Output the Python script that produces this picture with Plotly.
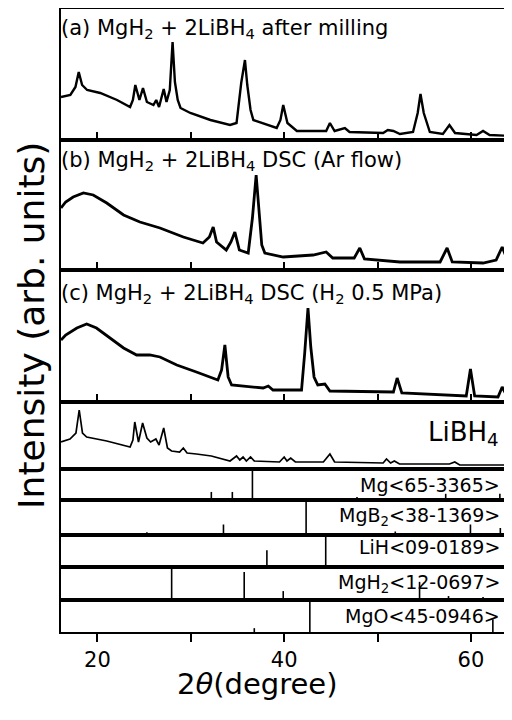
import plotly.graph_objects as go

# ---------------- data ----------------
# (a) MgH2 + 2LiBH4 after milling
a_tt = [16.1, 17.1, 17.65, 18.0, 18.36, 18.9, 20.3, 22.1, 23.5, 23.8, 24.06, 24.5, 24.88, 25.3, 26.0, 26.3,
        26.6, 27.1, 27.4, 27.75, 28.05, 28.3, 28.6, 28.9, 29.95, 32.1, 34.2, 34.9, 35.4, 35.8, 36.05, 36.4,
        36.7, 39.2, 39.6, 39.9, 40.35, 41.36, 44.5, 44.9, 45.4, 46.5, 47.0, 50.6, 51.1, 51.7, 52.4, 53.8,
        54.3, 54.6, 54.95, 55.6, 57.0, 57.7, 58.3, 60.6, 61.3, 62.0, 64.4]
a_int = [43, 45, 53, 68, 55, 50, 47, 40, 33, 40, 55, 40, 52, 38, 35, 40,
         33, 51, 38, 50, 98, 58, 40, 32, 27, 20, 15, 17, 57, 80, 55, 30,
         20, 12, 20, 35, 17, 9, 9, 17, 9, 12, 8, 7, 10, 9, 6, 8,
         27, 46, 27, 8, 6, 15, 7, 5, 9, 5, 4]

# (b) MgH2 + 2LiBH4 DSC (Ar flow)
b_tt = [16.1, 16.6, 17.4, 18.5, 19.55, 21.0, 22.8, 24.55, 26.7, 29.2, 31.3, 31.99, 32.4, 32.76, 33.8, 34.3,
        34.72, 35.2, 36.15, 36.6, 37.0, 37.3, 37.6, 37.93, 39.9, 43.1, 44.5, 45.2, 47.5, 48.1, 48.6, 52.4,
        56.7, 57.45, 58.0, 61.3, 62.7, 63.35, 64.0, 64.4]
b_int = [62, 68, 73, 77, 75, 67, 55, 48, 42, 33, 27, 33, 43, 28, 20, 28,
         38, 20, 17, 52, 95, 55, 25, 17, 13, 15, 18, 12, 12, 22, 11, 8,
         8, 22, 8, 7, 10, 23, 8, 7]

# (c) MgH2 + 2LiBH4 DSC (H2 0.5 MPa)
c_tt = [16.1, 16.6, 17.8, 18.85, 19.9, 21.3, 22.8, 24.2, 25.6, 26.7, 28.5, 30.6, 32.9, 33.3, 33.65, 34.0,
        34.37, 37.75, 38.3, 38.8, 41.86, 42.2, 42.55, 42.85, 43.2, 43.6, 44.36, 44.9, 51.7, 52.1, 52.6, 59.5,
        59.95, 60.4, 62.9, 63.35, 63.9, 64.4]
c_int = [62, 67, 74, 78, 74, 64, 54, 47, 47, 45, 37, 30, 22, 32, 57, 25,
         17, 14, 16, 12, 12, 49, 94, 55, 25, 17, 18, 11, 10, 24, 9, 6,
         33, 6, 5, 15, 5, 5]

# LiBH4 reference pattern
l_tt = [16.1, 17.06, 17.7, 18.05, 18.4, 18.85, 21.0, 23.5, 23.8, 24.0, 24.4, 24.84, 25.3, 25.7, 26.26, 26.6,
        27.1, 27.5, 27.94, 28.8, 29.2, 29.6, 30.6, 32.2, 34.2, 34.9, 35.25, 35.6, 35.95, 36.4, 36.8, 39.5,
        40.0, 40.3, 40.7, 41.2, 44.2, 44.9, 45.4, 50.6, 50.96, 51.4, 51.8, 52.35, 57.7, 58.27, 58.8, 64.4]
l_int = [27, 30, 36, 59, 36, 32, 28, 22, 29, 47, 27, 46, 31, 27, 30, 24,
         41, 21, 18, 17, 21, 16, 15, 13, 8, 13, 9, 12, 8, 12, 8, 7,
         12, 8, 11, 7, 7, 15, 7, 6, 10, 6, 8, 5, 5, 7, 4, 4]

# JCPDS stick patterns (2theta, relative intensity %)
mg_pos = [32.2, 34.45, 36.6, 47.8, 57.3, 63.1]
mg_rel = [26, 26, 100, 10, 20, 20]
mgb2_pos = [25.3, 33.5, 42.35, 51.9, 59.95, 63.15]
mgb2_rel = [8, 30, 100, 10, 30, 20]
lih_pos = [38.15, 44.45]
lih_rel = [52, 100]
mgh2_pos = [27.95, 35.72, 39.9, 54.5, 57.6, 61.3]
mgh2_rel = [100, 85, 27, 55, 12, 9]
mgo_pos = [36.8, 42.75, 62.35]
mgo_rel = [12, 100, 40]

x_range = [16.1, 64.4]
major_ticks = [20, 40, 60]
minor_ticks = [30, 50]

# ---------------- layout helpers ----------------
# The page body has an 8 px margin, so the figure is drawn 8 px lower/right.
OFF = 8
W, H = 512 - OFF, 720 - OFF
SCR_L, SCR_T, SCR_B = 61, 9, 632          # plot area edges in window pixels
L, T = SCR_L - OFF, SCR_T - OFF
B = H - (SCR_B - OFF)
R = 0
PW, PH = W - L - R, H - T - B


def fy(py):  # window pixel y -> paper fraction
    return ((SCR_B - OFF) - (py - OFF)) / PH


def fx(px):  # window pixel x -> paper fraction
    return ((px - OFF) - L) / PW


# panel pixel boundaries (top, bottom) in window pixels
panels = [(9, 140), (140, 270), (270, 402), (402, 469), (469, 500), (500, 535), (535, 567), (567, 600), (600, 632)]

fig = go.Figure()
FONT = "DejaVu Sans"

curves = [(a_tt, a_int, 2.4), (b_tt, b_int, 2.8), (c_tt, c_int, 2.8), (l_tt, l_int, 1.7)]
for i, (xs, ys, lw) in enumerate(curves):
    n = i + 1
    fig.add_trace(go.Scatter(x=xs, y=ys, mode="lines", line=dict(color="black", width=lw),
                             xaxis="x" if n == 1 else f"x{n}", yaxis="y" if n == 1 else f"y{n}",
                             showlegend=False, hoverinfo="skip"))

sticks = [(mg_pos, mg_rel), (mgb2_pos, mgb2_rel), (lih_pos, lih_rel), (mgh2_pos, mgh2_rel), (mgo_pos, mgo_rel)]
for j, (pos, rel) in enumerate(sticks):
    n = j + 5
    xs, ys = [], []
    for p, r in zip(pos, rel):
        xs += [p, p, None]
        ys += [0, r, None]
    fig.add_trace(go.Scatter(x=xs, y=ys, mode="lines", line=dict(color="black", width=1.6),
                             xaxis=f"x{n}", yaxis=f"y{n}", showlegend=False, hoverinfo="skip"))

layout = dict(width=W, height=H, margin=dict(l=L, r=R, t=T, b=B, autoexpand=False),
              paper_bgcolor="white", plot_bgcolor="white", showlegend=False)

yranges = [[0, 131], [0, 130], [0, 132], [0, 67], [0, 100], [0, 100], [0, 100], [0, 100], [0, 100]]
for k, (top, bot) in enumerate(panels):
    n = k + 1
    xk = "xaxis" if n == 1 else f"xaxis{n}"
    yk = "yaxis" if n == 1 else f"yaxis{n}"
    ya = "y" if n == 1 else f"y{n}"
    xa = "x" if n == 1 else f"x{n}"
    xd = dict(domain=[0, 1], range=x_range, anchor=ya, showline=True, mirror=True, linecolor="black",
              linewidth=1.6, showgrid=False, zeroline=False, tickmode="array", tickvals=major_ticks,
              showticklabels=False, ticks="", automargin=False, fixedrange=True)
    if n <= 3 or n == 9:
        side = "outside" if n == 9 else "inside"
        xd.update(ticks=side, ticklen=8, tickwidth=1.6, tickcolor="black",
                  minor=dict(tickmode="array", tickvals=minor_ticks, ticks=side, ticklen=8,
                             tickwidth=1.6, tickcolor="black", showgrid=False))
    if n == 9:
        xd.update(showticklabels=True, tickfont=dict(family=FONT, size=21, color="black"))
    layout[xk] = xd
    layout[yk] = dict(domain=[fy(bot), fy(top)], range=yranges[k], anchor=xa, showline=True, mirror=False,
                      linecolor="black", linewidth=1.6, showgrid=False, zeroline=False, showticklabels=False,
                      ticks="", fixedrange=True, automargin=False)

fig.update_layout(**layout)

ann = []


def add_text(text, px, py, size, xanchor="left", yanchor="top", angle=0):
    ann.append(dict(text=text, x=fx(px), y=fy(py), xref="paper", yref="paper", xanchor=xanchor, yanchor=yanchor,
                    showarrow=False, textangle=angle, borderpad=0,
                    font=dict(family=FONT, size=size, color="black")))


add_text("(a) MgH<sub>2</sub> + 2LiBH<sub>4</sub> after milling", 60, 15, 21)
add_text("(b) MgH<sub>2</sub> + 2LiBH<sub>4</sub> DSC (Ar flow)", 60, 147, 21)
add_text("(c) MgH<sub>2</sub> + 2LiBH<sub>4</sub> DSC (H<sub>2</sub> 0.5 MPa)", 60, 280, 21)
add_text("LiBH<sub>4</sub>", 500, 434, 26, xanchor="right", yanchor="middle")
add_text("Mg&lt;65-3365&gt;", 501, 485, 19, xanchor="right", yanchor="middle")
add_text("MgB<sub>2</sub>&lt;38-1369&gt;", 501, 516, 19, xanchor="right", yanchor="middle")
add_text("LiH&lt;09-0189&gt;", 501, 547, 19, xanchor="right", yanchor="middle")
add_text("MgH<sub>2</sub>&lt;12-0697&gt;", 501, 583, 19, xanchor="right", yanchor="middle")
add_text("MgO&lt;45-0946&gt;", 501, 616, 19, xanchor="right", yanchor="middle")
add_text("Intensity (arb. units)", 31, 326, 36, xanchor="center", yanchor="middle", angle=-90)
add_text("2<i>θ</i>(degree)", 257, 684, 29, xanchor="center", yanchor="middle")

fig.update_layout(annotations=ann)
fig.write_html("out.html")
